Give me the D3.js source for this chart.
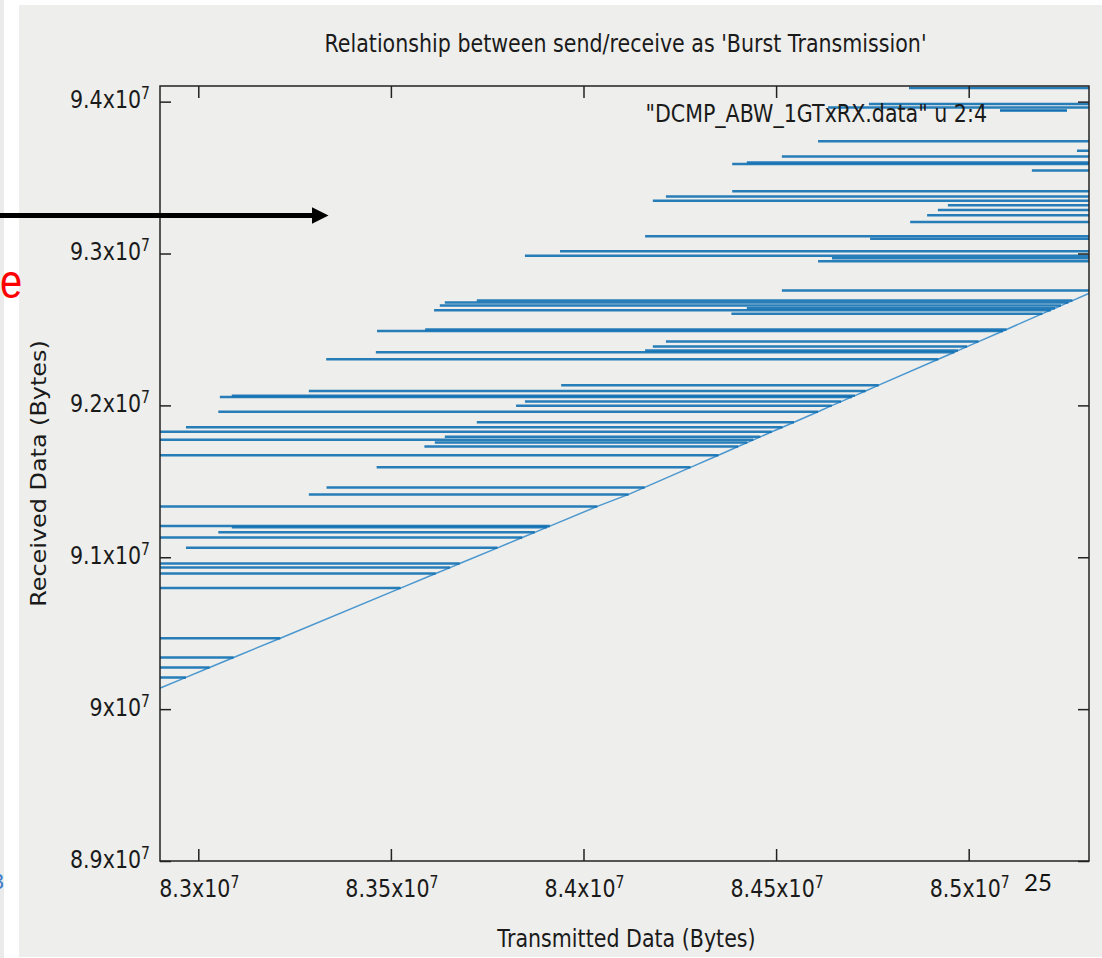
<!DOCTYPE html>
<html>
<head>
<meta charset="utf-8">
<script src="https://cdn.jsdelivr.net/npm/d3@7"></script>
<style>
  html, body { margin: 0; padding: 0; background: #ffffff; }
  svg { display: block; }
</style>
</head>
<body>
<svg id="chart" width="1102" height="958"></svg>
<script>
// Burst transmission: every burst is a run at a fixed received-byte count that
// reaches back (to lower transmitted counts) from the sender's running total.
const burstRx = [
  90124400, 90209000, 90274000, 90340000, 90467000, 90797000, 90893000, 90932000, 90959000, 91062000,
  91130000, 91164000, 91197000, 91205000, 91335000, 91414000, 91460000, 91592000, 91672000, 91729000,
  91755000, 91773000, 91793000, 91826000, 91856000, 91889000, 91958000, 91998000, 92025000, 92056000,
  92064000, 92095000, 92133000, 92304000, 92350000, 92361000, 92387000, 92420000, 92490000, 92500000,
  92604000, 92627000, 92640000, 92657000, 92678000, 92690000, 92757000, 92949000, 92969000, 92986000,
  93015000, 93098000, 93114000, 93208000, 93252000, 93287000, 93318000, 93348000, 93375000, 93410000,
  93546000, 93589000, 93600000, 93638000, 93677000, 93739000, 93962000, 93985000, 94090000
];
// lowest transmitted count reached by each burst
const burstTxLow = [
  82887600, 82850000, 82840000, 82860000, 82830000, 82845000, 82855000, 82835000, 82850000, 82968000,
  82840000, 83052000, 83087000, 82860000, 82845000, 83287000, 83333000, 83463000, 82850000, 83587000,
  83614000, 82840000, 83640000, 82855000, 82968000, 83723000, 83052000, 83825000, 83848000, 83056000,
  83087000, 83287000, 83942000, 83332000, 83461000, 84160000, 84180000, 84214000, 83464000, 83589000,
  84384000, 83612000, 84424000, 83627000, 83640000, 83723000, 84515000, 84609000, 84645000, 83848000,
  83939000, 84744000, 84160000, 84848000, 84892000, 84920000, 84946000, 84180000, 84214000, 84386000,
  85164000, 84386000, 84424000, 84515000, 85281000, 84609000, 84635000, 84741000, 84845000
];
// running transmitted total at the same moment
const burstTxHigh = [
  82887600, 82968100, 83029300, 83091600, 83212900, 83525200, 83616300, 83653700, 83678600, 83776800,
  83841100, 83873600, 83904700, 83912800, 84035800, 84117100, 84158900, 84277800, 84350200, 84401400,
  84425000, 84441100, 84459000, 84488900, 84516600, 84546500, 84608800, 84644400, 84668800, 84696800,
  84704600, 84732400, 84766400, 84920900, 84962700, 84972000, 84995900, 85025500, 85089100, 85098200,
  85191400, 85212900, 85224100, 85239700, 85258600, 85269300, 85330000, 85503400, 85521300, 85536100,
  85562900, 85637900, 85652200, 85737100, 85777000, 85808500, 85836500, 85863800, 85887600, 85919600,
  86042100, 86080800, 86090900, 86125400, 86161000, 86216800, 86417800, 86438500, 86533800
];

const xTickValues = [83000000, 83500000, 84000000, 84500000, 85000000];
const xTickLabels = ["8.3x10", "8.35x10", "8.4x10", "8.45x10", "8.5x10"];
const yTickValues = [89000000, 90000000, 91000000, 92000000, 93000000, 94000000];
const yTickLabels = ["8.9x10", "9x10", "9.1x10", "9.2x10", "9.3x10", "9.4x10"];
const tickExponent = "7";
const xDomain = [82900600, 85312300];
const yDomain = [89000000, 94103000];

const titleText = "Relationship between send/receive as 'Burst Transmission'";
const xTitle = "Transmitted Data (Bytes)";
const yTitle = "Received Data (Bytes)";
const seriesKey = "\"DCMP_ABW_1GTxRX.data\" u 2:4";

// ---------------------------------------------------------------------------
const W = 1102, H = 958;
const FONT = "DejaVu Sans";
const FS = 20.6;          // chart font size
const VS = 1.2;           // vertical stretch of the chart lettering
const INK = "#1a1a1a";
const RUN = "#1170b3";
const TRACK = "#4a97cf";

const svg = d3.select("#chart");

// slide backdrop
svg.append("rect").attr("width", W).attr("height", H).attr("fill", "#ffffff");
svg.append("rect").attr("x", 0).attr("y", 0).attr("width", 4).attr("height", H).attr("fill", "#ebebeb");
svg.append("rect").attr("x", 19).attr("y", 5).attr("width", W - 19).attr("height", 952).attr("fill", "#eeeeec");

const plot = { left: 160, right: 1089, top: 86, bottom: 861 };
const x = d3.scaleLinear().domain(xDomain).range([plot.left, plot.right]);
const y = d3.scaleLinear().domain(yDomain).range([plot.bottom, plot.top]);

svg.append("clipPath").attr("id", "plotClip").append("rect")
  .attr("x", plot.left).attr("y", plot.top)
  .attr("width", plot.right - plot.left).attr("height", plot.bottom - plot.top);

const bursts = burstRx.map((rx, i) => ({ rx, lo: burstTxLow[i], hi: burstTxHigh[i] }));

const data = svg.append("g").attr("clip-path", "url(#plotClip)");

// running total (the slanted track)
data.append("path")
  .datum(bursts)
  .attr("d", d3.line().x(d => x(d.hi)).y(d => y(d.rx)))
  .attr("fill", "none")
  .attr("stroke", TRACK)
  .attr("stroke-width", 1.5);

// one horizontal run per burst
const runLine = d3.line();
data.selectAll("path.run")
  .data(bursts)
  .join("path")
  .attr("class", "run")
  .attr("d", d => runLine([[x(d.hi), y(d.rx)], [x(d.lo), y(d.rx)]]))
  .attr("fill", "none")
  .attr("stroke", RUN)
  .attr("stroke-width", 2.5)
  .attr("stroke-opacity", 0.9);

// axes: inward ticks on all four sides, labels drawn separately
function tidy(sel) {
  sel.select(".domain").remove();
  sel.selectAll(".tick text").remove();
  sel.selectAll(".tick line").attr("stroke", "#222").attr("stroke-width", 1.5);
}
svg.append("g").attr("transform", `translate(0,${plot.bottom})`)
  .call(d3.axisBottom(x).tickValues(xTickValues).tickSize(-12)).call(tidy);
svg.append("g").attr("transform", `translate(0,${plot.top})`)
  .call(d3.axisTop(x).tickValues(xTickValues).tickSize(-12)).call(tidy);
svg.append("g").attr("transform", `translate(${plot.left},0)`)
  .call(d3.axisLeft(y).tickValues(yTickValues).tickSize(-11)).call(tidy);
svg.append("g").attr("transform", `translate(${plot.right},0)`)
  .call(d3.axisRight(y).tickValues(yTickValues).tickSize(-11)).call(tidy);

svg.append("rect")
  .attr("x", plot.left).attr("y", plot.top)
  .attr("width", plot.right - plot.left).attr("height", plot.bottom - plot.top)
  .attr("fill", "none").attr("stroke", "#222").attr("stroke-width", 1.5);

// text helpers
function stretched(px, py, anchor) {
  return svg.append("g")
    .attr("transform", `translate(${px},${py}) scale(1,${VS})`)
    .append("text")
    .attr("text-anchor", anchor)
    .attr("font-family", FONT)
    .attr("font-size", FS)
    .attr("fill", INK);
}
function sciLabel(px, py, mantissa, anchor) {
  const t = stretched(px, py, anchor);
  t.append("tspan").text(mantissa);
  t.append("tspan").attr("font-size", FS * 0.68).attr("dy", -7.5).text(tickExponent);
}

xTickValues.forEach((v, i) => sciLabel(x(v) + 1, 896.5, xTickLabels[i], "middle"));
yTickValues.forEach((v, i) => sciLabel(150, y(v) + 6.6, yTickLabels[i], "end"));

stretched(625.5, 51.5, "middle").text(titleText);
stretched((plot.left + plot.right) / 2 + 2, 946.5, "middle").text(xTitle);

svg.append("text")
  .attr("transform", `translate(46,${(plot.top + plot.bottom) / 2}) rotate(-90) scale(1.16,1)`)
  .attr("text-anchor", "middle")
  .attr("font-family", FONT)
  .attr("font-size", FS)
  .attr("fill", INK)
  .text(yTitle);

// key
stretched(987, 121.5, "end").text(seriesKey);
svg.append("line")
  .attr("x1", 1000).attr("x2", 1067).attr("y1", 110.5).attr("y2", 110.5)
  .attr("stroke", RUN).attr("stroke-width", 2.5);

// slide annotations around the chart
svg.append("line")
  .attr("x1", 0).attr("x2", 313).attr("y1", 215.5).attr("y2", 215.5)
  .attr("stroke", "#000").attr("stroke-width", 5);
svg.append("path")
  .attr("d", "M312,207.3 L328.5,215.5 L312,223.7 Z")
  .attr("fill", "#000");

svg.append("g").attr("transform", "translate(0,298) scale(1,1.2)")
  .append("text").attr("text-anchor", "start")
  .attr("font-family", "Liberation Sans").attr("font-size", 40)
  .attr("fill", "#ff0000").text("e");

svg.append("text").attr("x", 4).attr("y", 889).attr("text-anchor", "end")
  .attr("font-family", "Liberation Sans").attr("font-size", 22)
  .attr("fill", "#3f7fc9").text("3");

svg.append("text").attr("x", 1024).attr("y", 891)
  .attr("font-family", "Lato").attr("font-size", 24)
  .attr("fill", "#111").text("25");
</script>
</body>
</html>
